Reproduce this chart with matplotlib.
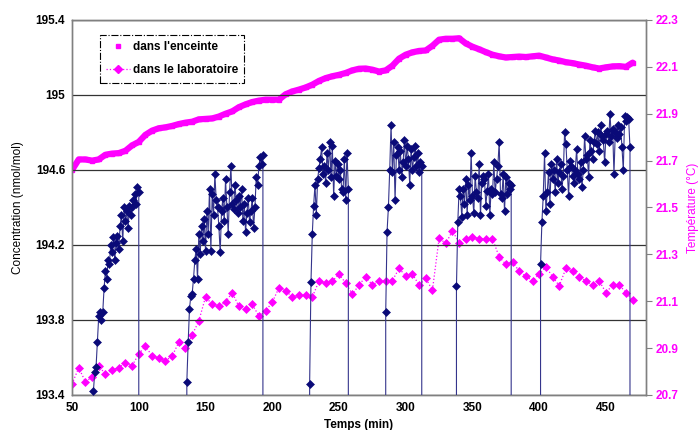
import numpy as np
import matplotlib
matplotlib.use("Agg")
import matplotlib.pyplot as plt
from matplotlib.lines import Line2D

plt.rcParams['font.family'] = ['Liberation Sans', 'DejaVu Sans']

# ---------------- data ----------------
# Concentration (nmol/mol), one reading per minute, per measuring segment
seg_starts = [66, 136, 228, 285, 338, 401]
seg1 = [193.42, 193.52, 193.55, 193.68, 193.82, 193.84, 193.80, 193.84, 193.97, 194.06,
        194.02, 194.12, 194.10, 194.20, 194.16, 194.24, 194.12, 194.21, 194.25, 194.18,
        194.30, 194.36, 194.22, 194.40, 194.33, 194.38, 194.29, 194.41, 194.36, 194.40,
        194.44, 194.47, 194.42, 194.51, 194.48]
seg2 = [193.47, 193.68, 193.86, 193.93, 193.94, 194.02, 194.12, 194.18, 194.02, 194.26,
        194.15, 194.30, 194.22, 194.34, 194.17, 194.38, 194.26, 194.50, 194.17, 194.47,
        194.36, 194.58, 194.44, 194.40, 194.30, 194.16, 194.38, 194.45, 194.33, 194.55,
        194.40, 194.26, 194.48, 194.62, 194.42, 194.39, 194.52, 194.44, 194.37, 194.46,
        194.40, 194.50, 194.33, 194.42, 194.27, 194.37, 194.45, 194.32, 194.38, 194.45,
        194.29, 194.40, 194.56, 194.52, 194.62, 194.67, 194.63, 194.68]
seg3 = [193.46, 194.00, 194.26, 194.41, 194.52, 194.36, 194.55, 194.61, 194.66, 194.72,
        194.58, 194.62, 194.53, 194.69, 194.60, 194.75, 194.56, 194.73, 194.46, 194.65,
        194.57, 194.63, 194.55, 194.60, 194.50, 194.48, 194.66, 194.44, 194.69, 194.50]
seg4 = [193.84, 194.27, 194.40, 194.60, 194.84, 194.59, 194.75, 194.44, 194.68, 194.72,
        194.60, 194.70, 194.56, 194.64, 194.76, 194.62, 194.73, 194.66, 194.52, 194.71,
        194.60, 194.67, 194.73, 194.62, 194.69, 194.59, 194.64, 194.62]
seg5 = [193.98, 194.32, 194.50, 194.46, 194.35, 194.50, 194.42, 194.55, 194.36, 194.52,
        194.44, 194.69, 194.46, 194.37, 194.57, 194.48, 194.45, 194.63, 194.36, 194.53,
        194.57, 194.55, 194.41, 194.49, 194.58, 194.36, 194.50, 194.47, 194.64, 194.48,
        194.55, 194.62, 194.75, 194.47, 194.45, 194.58, 194.38, 194.56, 194.47, 194.53,
        194.50, 194.52]
seg6 = [194.10, 194.32, 194.46, 194.69, 194.38, 194.48, 194.59, 194.42, 194.63, 194.55,
        194.60, 194.48, 194.66, 194.53, 194.59, 194.63, 194.50, 194.57, 194.80, 194.74,
        194.60, 194.46, 194.65, 194.62, 194.57, 194.53, 194.60, 194.71, 194.58, 194.55,
        194.64, 194.51, 194.60, 194.78, 194.66, 194.68, 194.56, 194.76, 194.70, 194.66,
        194.75, 194.81, 194.74, 194.80, 194.70, 194.84, 194.78, 194.76, 194.64, 194.79,
        194.81, 194.75, 194.90, 194.78, 194.82, 194.58, 194.80, 194.77, 194.84, 194.79,
        194.83, 194.72, 194.60, 194.89, 194.86, 194.88, 194.87, 194.72]
segments = [seg1, seg2, seg3, seg4, seg5, seg6]
switch_value = 0.0   # reading recorded while switching (off scale)

# Temperature in the enclosure (°C), every 5 min from 50 to 470
enc_time = list(range(50, 471, 5))
enc_temp = [21.66, 21.705, 21.705, 21.700, 21.705, 21.725, 21.73, 21.732, 21.742, 21.765,
            21.78, 21.81, 21.828, 21.838, 21.842, 21.848, 21.856, 21.862, 21.866, 21.876,
            21.878, 21.88, 21.888, 21.90, 21.91, 21.928, 21.94, 21.95, 21.956, 21.96,
            21.96, 21.96, 21.983, 21.995, 22.003, 22.012, 22.024, 22.04, 22.052, 22.06,
            22.066, 22.074, 22.085, 22.092, 22.093, 22.088, 22.08, 22.085, 22.105, 22.135,
            22.152, 22.162, 22.168, 22.17, 22.19, 22.216, 22.22, 22.22, 22.222, 22.20,
            22.186, 22.175, 22.163, 22.152, 22.145, 22.14, 22.142, 22.144, 22.142, 22.145,
            22.148, 22.14, 22.132, 22.127, 22.12, 22.116, 22.11, 22.105, 22.098, 22.093,
            22.098, 22.102, 22.103, 22.10, 22.118]

# Temperature in the laboratory (°C), every 5 min from 50 to 470
lab_time = list(range(50, 471, 5))
lab_temp = [20.747, 20.816, 20.757, 20.776, 20.825, 20.788, 20.807, 20.816, 20.838, 20.825,
            20.875, 20.909, 20.866, 20.857, 20.846, 20.866, 20.925, 20.899, 20.956, 21.016,
            21.118, 21.087, 21.078, 21.096, 21.137, 21.078, 21.067, 21.087, 21.037, 21.058,
            21.096, 21.157, 21.145, 21.118, 21.127, 21.127, 21.118, 21.186, 21.178, 21.186,
            21.215, 21.178, 21.13, 21.169, 21.205, 21.169, 21.188, 21.188, 21.188, 21.24,
            21.208, 21.216, 21.169, 21.198, 21.147, 21.369, 21.347, 21.40, 21.35, 21.366,
            21.375, 21.367, 21.367, 21.367, 21.289, 21.258, 21.266, 21.229, 21.206, 21.188,
            21.216, 21.247, 21.205, 21.166, 21.24, 21.229, 21.205, 21.186, 21.169, 21.186,
            21.137, 21.169, 21.169, 21.137, 21.105]

left_ticks = [193.4, 193.8, 194.2, 194.6, 195.0, 195.4]
left_ticklabels = ['193.4', '193.8', '194.2', '194.6', '195', '195.4']
right_ticks = [20.7, 20.9, 21.1, 21.3, 21.5, 21.7, 21.9, 22.1, 22.3]
x_ticks = [50, 100, 150, 200, 250, 300, 350, 400, 450]

# build concentration series with off-scale switching readings between segments
conc_t, conc_v = [], []
for start, seg in zip(seg_starts, segments):
    conc_t.append(start - 0.5); conc_v.append(switch_value)
    for i, v in enumerate(seg):
        conc_t.append(start + i); conc_v.append(v)
    conc_t.append(start + len(seg) - 0.5); conc_v.append(switch_value)

# ---------------- plot ----------------
NAVY = '#0a0a78'
LINE_NAVY = '#35358c'
MAG = '#ff00ff'
GRAY = '#808080'

fig = plt.figure(figsize=(6.98, 4.30), dpi=100)
ax = fig.add_axes([0.1032, 0.0814, 0.8223, 0.8721])
ax2 = ax.twinx()
ax.set_zorder(ax2.get_zorder() + 1)
ax.patch.set_visible(False)

# temperature series on right axis
ax2.plot(enc_time, enc_temp, color=MAG, lw=4.5, marker='s', ms=3.5, ls='-',
         solid_capstyle='round')
ax2.plot(lab_time, lab_temp, color=MAG, lw=0.9, ls=':', marker='D', ms=4.5,
         markeredgewidth=0.5)
ax2.set_ylim(20.7, 22.3)
ax2.set_yticks(right_ticks)
ax2.set_yticklabels([f'{v:.1f}' for v in right_ticks])
ax2.tick_params(axis='y', colors=MAG, labelsize=8.5, length=4, width=0.8,
                direction='out', pad=3)
for lab in ax2.get_yticklabels():
    lab.set_fontweight('bold')
    lab.set_color(MAG)
ax2.yaxis.set_tick_params(color=GRAY)
ax2.set_ylabel('Température (°C)', color=MAG, fontsize=8.5, labelpad=6)

# concentration on left axis
ax.plot(conc_t, conc_v, color=LINE_NAVY, lw=0.8, marker='D', ms=3.9,
        markerfacecolor=NAVY, markeredgecolor=NAVY,
        markeredgewidth=0.4, zorder=3)
ax.set_ylim(193.4, 195.4)
ax.set_xlim(50, 480)
ax.set_yticks(left_ticks)
ax.set_yticklabels(left_ticklabels)
ax.set_xticks(x_ticks)
ax.tick_params(axis='both', length=0, labelsize=8.5, pad=5)
for lab in ax.get_yticklabels() + ax.get_xticklabels():
    lab.set_fontweight('bold')
ax.grid(axis='y', color='#333333', lw=0.9)
ax.set_axisbelow(True)
ax.set_ylabel('Concentration (nmol/mol)', fontsize=8.5, labelpad=8)
ax.set_xlabel('Temps (min)', fontsize=8.5, fontweight='bold', labelpad=4)

for a in (ax, ax2):
    for s in a.spines.values():
        s.set_color(GRAY)
        s.set_linewidth(1.0)

# legend
handles = [Line2D([], [], color=MAG, marker='s', ms=3.5, ls='none'),
           Line2D([], [], color=MAG, marker='D', ms=4.5, ls=':', lw=0.9)]
leg = ax.legend(handles, ["dans l'enceinte", 'dans le laboratoire'],
                loc='upper left', bbox_to_anchor=(0.048, 0.96), numpoints=1,
                prop={'weight': 'bold', 'size': 8.5}, fancybox=False,
                framealpha=1, edgecolor='black', handlelength=2.0,
                handletextpad=0.25, borderpad=0.55, labelspacing=0.9,
                borderaxespad=0)
leg.get_frame().set_linestyle('-.')
leg.get_frame().set_linewidth(0.8)

fig.savefig('out.png', dpi=100)
